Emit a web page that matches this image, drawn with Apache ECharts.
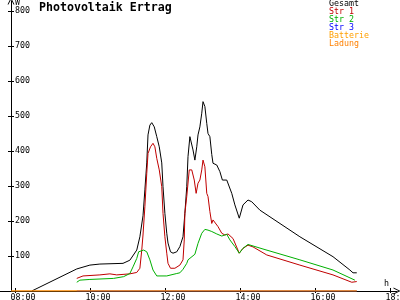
<!DOCTYPE html>
<html>
<head>
<meta charset="utf-8">
<script src="https://cdn.jsdelivr.net/npm/echarts@6/dist/echarts.min.js"></script>
<style>html,body{margin:0;padding:0;background:#fff}#c{width:400px;height:300px}</style>
</head>
<body>
<div id="c"></div>
<script>
// ---- data ----
const seriesNames = ['Gesamt', 'Str 1', 'Str 2', 'Str 3', 'Batterie', 'Ladung'];
const xTickHours = [8, 10, 12, 14, 16, 18];
const yTicks = [100, 200, 300, 400, 500, 600, 700, 800];

const gesamtTimes = ['08:26','09:38','09:59','10:15','10:52','11:03','11:14','11:19','11:24','11:27','11:30','11:32','11:35','11:38','11:42','11:46','11:50','11:54','11:56','11:59','12:02','12:04','12:08','12:12','12:18','12:23','12:28','12:31','12:34','12:36','12:39','12:42','12:44','12:47','12:50','12:52','12:55','12:58','13:00','13:03','13:06','13:08','13:11','13:14','13:16','13:22','13:27','13:31','13:38','13:46','13:51','13:58','14:04','14:12','14:18','14:31','15:35','16:28','16:55','17:00','17:06'];
const gesamtValues = [0,63,74,77,79,88,117,155,215,289,366,446,474,481,469,441,412,366,298,222,165,137,112,108,112,127,155,222,298,384,441,436,403,374,412,446,469,508,541,527,479,450,441,390,365,360,341,317,317,279,246,208,246,260,255,231,155,98,60,52,52];

const str1Times = ['09:38','09:48','10:15','10:31','10:42','11:03','11:14','11:19','11:22','11:24','11:27','11:30','11:32','11:36','11:40','11:43','11:46','11:50','11:54','11:56','11:59','12:02','12:04','12:08','12:15','12:23','12:28','12:30','12:31','12:34','12:38','12:42','12:46','12:49','12:52','12:55','12:58','13:00','13:03','13:06','13:08','13:11','13:14','13:16','13:19','13:24','13:30','13:35','13:40','13:48','13:58','14:04','14:12','14:20','14:42','15:35','16:28','16:58','17:06'];
const str1Values = [36,43,46,49,46,49,53,65,117,160,241,336,393,412,422,412,379,346,298,222,155,108,79,65,65,74,89,146,222,270,346,346,317,279,308,317,346,374,355,279,270,227,193,203,208,184,165,160,163,150,108,122,131,126,103,74,46,25,27];

const str2Times = ['09:38','09:43','09:59','10:37','10:53','11:03','11:08','11:14','11:17','11:25','11:30','11:35','11:40','11:46','12:02','12:18','12:23','12:28','12:34','12:36','12:39','12:47','12:52','12:58','13:03','13:08','13:14','13:22','13:30','13:38','13:43','13:51','13:58','14:04','14:12','14:36','15:35','16:28','17:03'];
const str2Values = [25,31,33,36,41,50,69,93,112,117,112,89,60,43,43,50,52,62,79,89,93,105,136,165,176,174,170,163,157,162,146,127,108,122,133,120,89,60,31];

const str3Times = ['09:38','17:06'];
const str3Values = [0,0];
const batterieTimes = ['07:53','17:06'];
const batterieValues = [0,0];
const ladungTimes = ['07:53','17:06'];
const ladungValues = [0,0];

// ---- helpers ----
const hours = s => { const p = s.split(':').map(Number); return p[0] + p[1] / 60; };
const pairs = (t, v) => t.map((s, i) => [hours(s), v[i]]);
const pad = n => (n < 10 ? '0' : '') + n;

const colors = ['#000000', '#c00000', '#00b000', '#0000ff', '#ffa000', '#ff8000'];
const dataSets = [
  pairs(gesamtTimes, gesamtValues),
  pairs(str1Times, str1Values),
  pairs(str2Times, str2Values),
  pairs(str3Times, str3Values),
  pairs(batterieTimes, batterieValues),
  pairs(ladungTimes, ladungValues)
];

const FONT = 'DejaVu Sans Mono';
const pxPerHour = 37.5;
const xMin = 8 - 15.5 / pxPerHour;
const xMax = xMin + 397 / pxPerHour;
const yMax = 290 / 0.35;
const chevron = 'path://M0,10 L5,0 L10,10 L8.6,10 L5,2.8 L1.4,10 Z';

const chart = echarts.init(document.getElementById('c'), null, { renderer: 'canvas' });
chart.setOption({
  animation: false,
  backgroundColor: '#ffffff',
  title: {
    text: 'Photovoltaik Ertrag',
    left: 39, top: 2, padding: 0,
    textStyle: { fontFamily: FONT, fontSize: 11.6, fontWeight: 'bold', color: '#000' }
  },
  legend: {
    orient: 'vertical', left: 323, top: 0, padding: 0, itemGap: 0,
    itemWidth: 1, itemHeight: 8, icon: 'rect', selectedMode: false,
    itemStyle: { opacity: 0 },
    textStyle: { fontFamily: FONT, fontSize: 8.3, lineHeight: 8 },
    data: seriesNames.map((n, i) => ({ name: n, textStyle: { color: colors[i] } }))
  },
  grid: { left: 0, right: 3, top: 1, bottom: 9, containLabel: false, outerBoundsMode: 'none' },
  xAxis: [
    {
      type: 'value', min: xMin, max: xMax, position: 'bottom',
      name: 'h', nameLocation: 'end', nameGap: 0,
      nameTextStyle: { fontFamily: FONT, fontSize: 8.3, color: '#000', align: 'right', verticalAlign: 'bottom', padding: [0, 8, 3, 0] },
      axisLine: { onZero: false, lineStyle: { color: '#000', width: 1 }, symbol: ['none', chevron], symbolSize: [7, 7] },
      axisTick: { inside: true, length: 3, lineStyle: { color: '#000' }, customValues: xTickHours },
      axisLabel: {
        customValues: xTickHours.map(h => h - 5 / pxPerHour),
        formatter: v => pad(Math.round(v)) + ':00',
        align: 'left', margin: 3, fontFamily: FONT, fontSize: 8.3, color: '#000'
      },
      splitLine: { show: false }
    },
    {
      type: 'value', min: xMin, max: xMax, position: 'bottom',
      axisLine: { show: false },
      axisTick: { inside: false, length: 2, lineStyle: { color: '#000' }, customValues: xTickHours },
      axisLabel: { show: false },
      splitLine: { show: false }
    }
  ],
  yAxis: [
    {
      type: 'value', min: 0, max: yMax, position: 'left', offset: -11,
      name: 'W', nameLocation: 'end', nameGap: -2,
      nameTextStyle: { fontFamily: FONT, fontSize: 8.3, color: '#000', align: 'left', verticalAlign: 'top', padding: [0, 0, 0, 4] },
      axisLine: { onZero: false, lineStyle: { color: '#000', width: 1 }, symbol: ['none', chevron], symbolSize: [7, 7] },
      axisTick: { inside: true, length: 3, lineStyle: { color: '#000' }, customValues: yTicks },
      axisLabel: { inside: true, customValues: yTicks, margin: 4, fontFamily: FONT, fontSize: 8.3, color: '#000' },
      splitLine: { show: false }
    },
    {
      type: 'value', min: 0, max: yMax, position: 'left', offset: -11,
      axisLine: { show: false },
      axisTick: { inside: false, length: 3, lineStyle: { color: '#000' }, customValues: yTicks },
      axisLabel: { show: false },
      splitLine: { show: false }
    }
  ],
  series: seriesNames.map((n, i) => ({
    name: n, type: 'line', data: dataSets[i], symbol: 'none',
    xAxisIndex: 0, yAxisIndex: 0,
    lineStyle: { color: colors[i], width: 1 }, itemStyle: { color: colors[i] },
    z: 2 + i
  }))
});
</script>
</body>
</html>
